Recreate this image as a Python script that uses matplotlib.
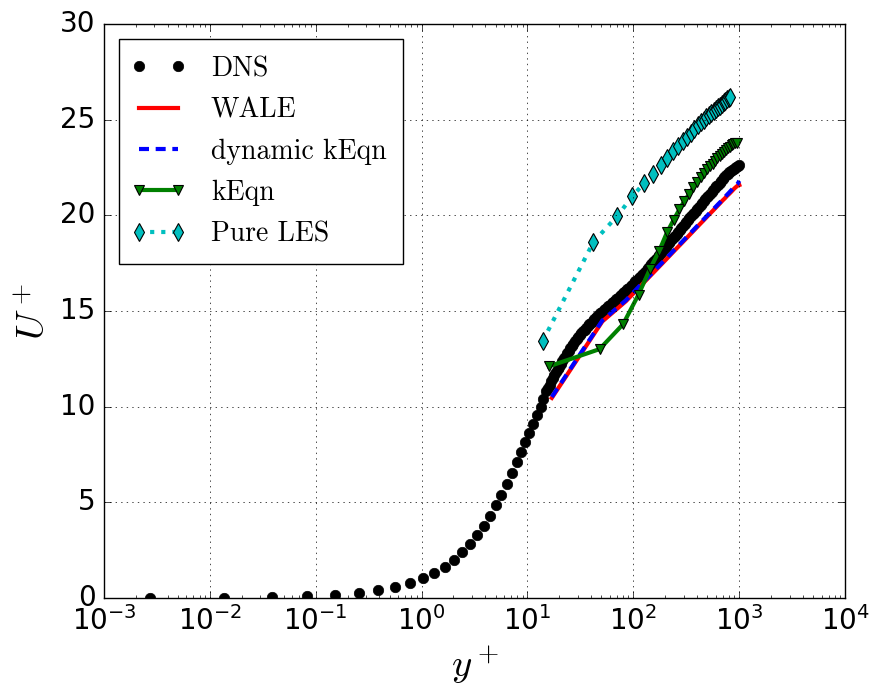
import matplotlib
matplotlib.use('Agg')
import matplotlib.pyplot as plt
from matplotlib.legend_handler import HandlerLine2D

# mean velocity profile, DNS against the LES runs
dns_yplus = [0.00273, 0.0137, 0.0385, 0.083, 0.153, 0.254, 0.39, 0.56, 0.77,
             1.03, 1.32, 1.66, 2.04, 2.43, 2.87, 3.34, 3.89, 4.46, 5.05, 5.67,
             6.36, 7.09, 7.91, 8.62, 9.49, 10.42, 11.2, 12.2, 13.4, 14.1, 15.1,
             15.7, 16.2, 16.8, 17.4, 18.0, 18.6, 19.3, 20.0, 20.7, 21.4, 22.1,
             22.9, 23.7, 24.5, 25.4, 26.3, 27.2, 28.2, 29.2, 30.2, 31.3, 32.4,
             33.5, 34.7, 35.9, 37.2, 38.5, 39.8, 41.2, 42.7, 44.2, 45.7, 47.3,
             49.0, 50.7, 52.5, 54.3, 56.2, 58.2, 60.3, 62.4, 64.6, 66.8, 69.2,
             71.6, 74.1, 76.7, 79.4, 82.2, 85.1, 88.1, 91.2, 94.4, 97.7, 101.2,
             104.7, 108.4, 112.2, 116.1, 120.2, 124.5, 128.8, 133.4, 138.0,
             142.9, 147.9, 153.1, 158.5, 164.1, 169.8, 175.8, 182.0, 188.4,
             195.0, 201.8, 208.9, 216.3, 223.9, 231.7, 239.9, 248.3, 257.0,
             266.1, 275.4, 285.1, 295.1, 305.5, 316.2, 327.3, 338.8, 350.8,
             363.1, 375.8, 389.0, 402.7, 416.9, 431.5, 446.7, 462.4, 478.6,
             495.5, 512.9, 530.9, 549.5, 568.9, 588.8, 609.5, 631.0, 653.1,
             676.1, 699.8, 724.4, 749.9, 776.2, 803.5, 831.8, 861.0, 891.3,
             912.0, 933.3, 966.0, 1000.0]
dns_uplus = [0.003, 0.014, 0.039, 0.083, 0.153, 0.254, 0.39, 0.56, 0.77,
             1.02, 1.31, 1.63, 2.0, 2.4, 2.83, 3.27, 3.77, 4.3, 4.86, 5.38,
             5.93, 6.5, 7.08, 7.6, 8.14, 8.61, 9.08, 9.55, 10.0, 10.4, 10.8,
             10.98, 11.15, 11.31, 11.47, 11.63, 11.79, 11.94, 12.09, 12.24,
             12.38, 12.52, 12.66, 12.79, 12.92, 13.05, 13.17, 13.29, 13.4,
             13.51, 13.62, 13.73, 13.83, 13.93, 14.02, 14.12, 14.21, 14.3,
             14.39, 14.48, 14.56, 14.64, 14.72, 14.8, 14.88, 14.96, 15.03,
             15.1, 15.16, 15.24, 15.31, 15.39, 15.46, 15.54, 15.61, 15.69,
             15.76, 15.84, 15.91, 15.99, 16.06, 16.14, 16.22, 16.3, 16.37,
             16.45, 16.54, 16.62, 16.71, 16.79, 16.87, 16.95, 17.04, 17.13,
             17.23, 17.33, 17.43, 17.53, 17.63, 17.73, 17.83, 17.93, 18.03,
             18.13, 18.24, 18.34, 18.44, 18.54, 18.64, 18.74, 18.84, 18.94,
             19.04, 19.14, 19.24, 19.34, 19.44, 19.54, 19.64, 19.74, 19.84,
             19.94, 20.04, 20.14, 20.24, 20.34, 20.44, 20.54, 20.64, 20.74,
             20.84, 20.94, 21.03, 21.13, 21.22, 21.32, 21.41, 21.51, 21.6,
             21.7, 21.79, 21.89, 21.98, 22.08, 22.17, 22.24, 22.3, 22.37,
             22.43, 22.48, 22.52, 22.58, 22.62]

wale_yplus = [17, 51, 85, 119, 153, 187, 221, 255, 289, 323, 357, 391, 425,
              459, 493, 527, 561, 595, 629, 663, 697, 731, 765, 799, 833, 867,
              901, 935, 969, 1003]
wale_uplus = [10.45, 14.45, 15.5, 16.34, 16.97, 17.47, 17.89, 18.25, 18.56,
              18.84, 19.09, 19.32, 19.53, 19.72, 19.9, 20.07, 20.22, 20.37,
              20.51, 20.64, 20.77, 20.88, 21.0, 21.1, 21.2, 21.3, 21.4, 21.48,
              21.55, 21.58]
dyn_uplus = [10.5, 14.5, 15.55, 16.4, 17.02, 17.52, 17.94, 18.3, 18.61,
             18.89, 19.14, 19.37, 19.58, 19.77, 19.95, 20.12, 20.27, 20.42,
             20.56, 20.69, 20.82, 20.94, 21.06, 21.17, 21.28, 21.38, 21.48,
             21.57, 21.65, 21.8]

keqn_yplus = [16, 48, 80, 112, 144, 176, 208, 240, 272, 304, 336, 368, 400,
              432, 464, 496, 528, 560, 592, 624, 656, 688, 720, 752, 784, 816,
              848, 880, 912, 944]
keqn_uplus = [12.1, 13.0, 14.3, 15.85, 17.2, 18.15, 19.1, 19.75, 20.3, 20.75,
              21.1, 21.45, 21.75, 22.0, 22.2, 22.4, 22.55, 22.7, 22.85, 22.98,
              23.1, 23.2, 23.3, 23.4, 23.5, 23.58, 23.65, 23.72, 23.76, 23.8]

les_yplus = [14, 42, 70, 98, 126, 154, 182, 210, 238, 266, 294, 322, 350, 378,
             406, 434, 462, 490, 518, 546, 574, 602, 630, 658, 686, 714, 742,
             770, 798, 826]
les_uplus = [13.44, 18.6, 19.94, 20.98, 21.68, 22.15, 22.6, 23.0, 23.35,
             23.62, 23.86, 24.08, 24.3, 24.5, 24.7, 24.85, 25.0, 25.12, 25.24,
             25.35, 25.45, 25.55, 25.65, 25.73, 25.82, 25.9, 25.98, 26.06,
             26.14, 26.2]

plt.style.use('classic')
plt.rcParams['mathtext.fontset'] = 'cm'
plt.rcParams['axes.unicode_minus'] = False

fig, ax = plt.subplots(figsize=(8.73, 6.84), dpi=100)
fig.subplots_adjust(left=0.119, right=0.968, bottom=0.126, top=0.965)

ax.plot(dns_yplus, dns_uplus, 'ko', ms=7.5, mec='k', label='DNS')
ax.plot(wale_yplus, wale_uplus, '-', color='r', lw=3, label='WALE')
ax.plot(wale_yplus, dyn_uplus, color='b', lw=3, dashes=(7.2, 4.8),
        label='dynamic kEqn')
ax.plot(keqn_yplus, keqn_uplus, '-v', color='g', lw=3, ms=7, mec='k',
        mew=0.8, label='kEqn')
ax.plot(les_yplus, les_uplus, color='c', lw=3, dashes=(3, 5), marker='d',
        ms=9, mec='k', mew=0.8, label='Pure LES')

ax.set_xscale('log')
ax.set_xlim(1e-3, 1e4)
ax.set_ylim(0, 30)
ax.grid(True)
ax.tick_params(labelsize=20, pad=6)
ax.tick_params(which='major', length=5)
ax.tick_params(which='minor', length=2.5)
ax.set_xlabel(r'$y^+$', fontsize=28)
ax.set_ylabel(r'$U^+$', fontsize=28)

ax.legend(loc='upper left', prop={'family': 'cmr10', 'size': 20},
          numpoints=2, handlelength=1.62, handletextpad=1.08,
          borderpad=0.6, borderaxespad=0.55, labelspacing=0.54,
          handler_map={plt.Line2D: HandlerLine2D(marker_pad=0.1)})

fig.savefig('out.png', dpi=100)
